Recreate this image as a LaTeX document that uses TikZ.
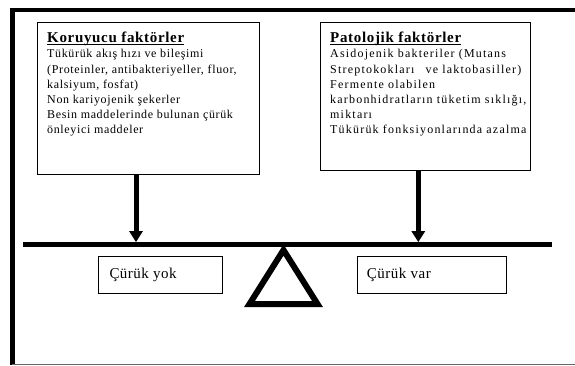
\documentclass[tikz,border=0pt]{standalone}
\usepackage{amsmath}
\usepackage{fontspec}
\setmainfont{Liberation Serif}
\newfontfamily\bodyfamily[LetterSpace=5.4]{Liberation Serif}
\newfontfamily\widefamily[LetterSpace=10]{Liberation Serif}
\newfontfamily\hdfamily[LetterSpace=4.5]{Liberation Serif}
\newfontfamily\panfamily[LetterSpace=3.3]{Liberation Serif}
\usetikzlibrary{arrows.meta,positioning,calc}
\tikzset{
  panel/.style={draw, rectangle, line width=1pt, anchor=north west, inner sep=0pt},
  paneltext/.style={anchor=north west, align=left, inner sep=0pt, font=\bodyfamily\fontsize{12}{15.2}\selectfont},
  widetext/.style={paneltext, font=\widefamily\fontsize{12}{15.2}\selectfont},
  pan/.style={draw, rectangle, line width=0.9pt, anchor=north west, inner sep=0pt},
  pantext/.style={anchor=base west, inner sep=0pt, font=\panfamily\fontsize{15}{17}\selectfont},
  arr/.style={-{Triangle[length=11pt, width=13pt]}, line width=5pt},
  frame/.style={line width=3.5pt}
}
\newcommand{\hdfont}{\hdfamily\fontsize{15}{17}\selectfont\bfseries}
\newcommand{\hdline}[1]{{\hdfont\underline{\smash[b]{#1}}}}
\begin{document}
\begin{tikzpicture}[x=1pt, y=-1pt]
\useasboundingbox (0,0) rectangle (575,365);
% frame
\draw[line width=5pt] (12,8.3) -- (12,365);
\draw[frame] (9.5,10) -- (575,10);
\draw[line width=1pt, black!60] (12,364) -- (575,364);
% factor panels
\node[panel, minimum width=222pt, minimum height=152pt] (korbox) at (37,22) {};
\node[paneltext] (kortext) at (47,31.5) {\hdline{Koruyucu faktörler}\\[0.4pt]
Tükürük akış hızı ve bileşimi\\
(Proteinler, antibakteriyeller, fluor,\\
kalsiyum, fosfat)\\
Non kariyojenik şekerler\\
Besin maddelerinde bulunan çürük\\
önleyici maddeler};
\node[panel, minimum width=210pt, minimum height=148pt] (patbox) at (320,22) {};
\node[widetext] (pattext) at (330,31.5) {\hdline{Patolojik faktörler}\\[0.4pt]
Asidojenik bakteriler (Mutans\\
Streptokokları\hspace{7pt} ve laktobasiller)\\
Fermente olabilen\\
karbonhidratların tüketim sıklığı,\\
miktarı\\
Tükürük fonksiyonlarında azalma};
% balance
\node[fill=black, minimum width=529pt, minimum height=4.7pt, inner sep=0pt, anchor=west] (beam) at (22.7,244.7) {};
\draw[line width=6pt, line join=miter] (283.5,250) -- (317.5,304) -- (249.5,304) -- cycle;
\coordinate (korfoot) at (136,174);
\coordinate (patfoot) at (418.3,170);
\draw[arr] (korfoot) -- (korfoot |- beam.north);
\draw[arr] (patfoot) -- (patfoot |- beam.north);
% outcomes
\node[pan, minimum width=123.7pt, minimum height=37.3pt] (yok) at (98.3,256) {};
\node[pantext] (yoktext) at (109.3,278.3) {Çürük yok};
\node[pan, minimum width=148.4pt, minimum height=37.3pt] (var) at (357.3,256) {};
\node[pantext] (vartext) at (366.7,278) {Çürük var};
\end{tikzpicture}
\end{document}
